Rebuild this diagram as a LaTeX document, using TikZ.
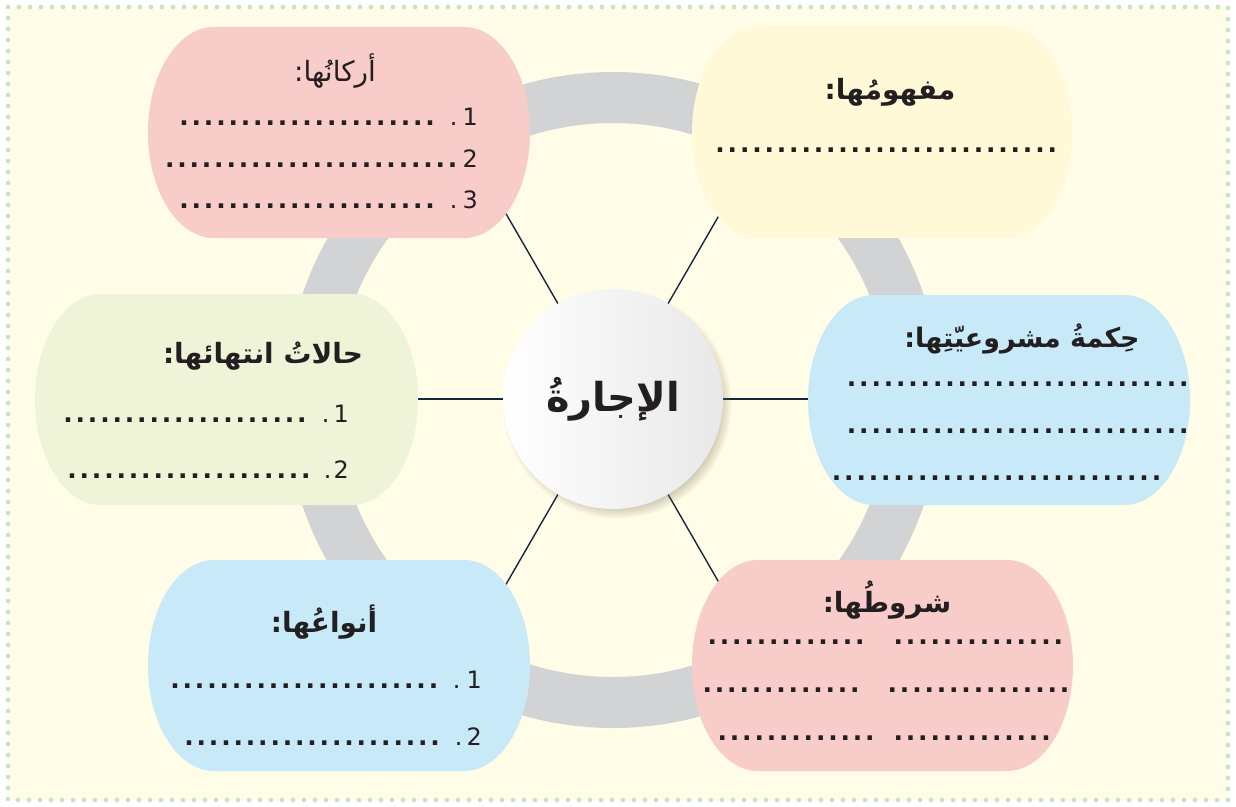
\documentclass[tikz,border=0pt]{standalone}
\usepackage{fontspec}
\setmainfont{DejaVu Sans}
\newfontfamily\arabicfont[Script=Arabic]{DejaVu Sans}
\TeXXeTstate=1
\usetikzlibrary{calc,shadows}
\definecolor{bgc}{RGB}{255,252,232}
\definecolor{dotgreen}{RGB}{204,228,196}
\definecolor{ringc}{RGB}{209,211,212}
\definecolor{pinkbox}{RGB}{248,204,201}
\definecolor{yellowbox}{RGB}{255,249,215}
\definecolor{greenbox}{RGB}{239,244,217}
\definecolor{bluebox}{RGB}{199,233,248}
\definecolor{spokec}{RGB}{20,40,60}
\definecolor{txt}{RGB}{35,31,32}
\definecolor{shadowc}{RGB}{120,112,80}
\pgfdeclarelayer{back}
\pgfdeclarelayer{mid}
\pgfsetlayers{back,mid,main}
\newcommand\dotsrow[1]{\hbox to #1{\leaders\hbox to 12.3bp{\hss{\fontsize{25}{25}\selectfont\bfseries .}\hss}\hfill}}
\newcommand\bubble[6]{%
  \node[inner sep=0pt, outer sep=0pt, minimum width={(#5-#3)*1bp}, minimum height={(#6-#4)*1bp}] (#1) at ({(#3+#5)/2},{-(#4+#6)/2}) {};
  \fill[#2] ($(#1.north west)+(66,0)$) -- ($(#1.north east)+(-66,0)$)
    arc[start angle=90,end angle=-90,x radius=66,y radius={(#6-#4)/2}]
    -- ($(#1.south west)+(66,0)$)
    arc[start angle=270,end angle=90,x radius=66,y radius={(#6-#4)/2}] -- cycle;
}
\tikzset{
  title/.style={anchor=base, inner sep=0pt, text=txt, font=\arabicfont\fontsize{28}{32}\selectfont\bfseries},
  rowtext/.style={inner sep=0pt, text=txt, font=\fontsize{24}{28}\selectfont},
  spoke/.style={draw=spokec, line width=1.4bp},
}
\begin{document}
\begin{tikzpicture}[x=1bp,y=1bp]
\useasboundingbox (0,0) rectangle (1236,-807);
\begin{pgfonlayer}{back}
  \fill[white] (0,0) rectangle (1236,-807);
  \fill[bgc] (8,-7) rectangle (1228,-800);
  \draw[dotgreen, line width=4.8bp, line cap=round, dash pattern=on 0pt off 11bp] (8,-7) rectangle (1228,-800);
  \draw[ringc, line width=51bp] (613,-400) circle[radius=302.5];
\end{pgfonlayer}

% bubbles
\bubble{tl}{pinkbox}{148}{27}{530}{238}
\bubble{tr}{yellowbox}{692}{27}{1072}{238}
\bubble{ml}{greenbox}{35}{294}{418}{505}
\bubble{mr}{bluebox}{808}{295}{1190}{505}
\bubble{bl}{bluebox}{148}{560}{530}{771}
\bubble{br}{pinkbox}{692}{560}{1073}{771}

% centre circle
\node[circle, minimum size=220bp, inner sep=0pt, left color=white, right color=black!9,
  circular drop shadow={shadow xshift=4bp, shadow yshift=-5bp, shadow scale=1.04, fill=shadowc, opacity=.5},
  text=txt, font=\arabicfont\fontsize{40}{44}\selectfont\bfseries] (c) at (613,-399) {\beginR الإجارةُ\endR};

% spokes
\begin{pgfonlayer}{mid}
  \foreach \a/\n in {0/e0,60/e60,120/e120,180/e180,240/e240,300/e300}{
    \path (c.center) ++(\a:250) coordinate (\n);
    \draw[spoke] (c.\a) -- (\n);
  }
\end{pgfonlayer}

% top left
\node[title, font=\arabicfont\fontsize{28}{32}\selectfont] (tlt) at (335,-82) {\beginR أركانُها:\endR};
\node[rowtext, anchor=base east] (tl1) at (478,-125) {\dotsrow{268bp}\hspace{4bp}.\hspace{5bp}1};
\node[rowtext, anchor=base east] (tl2) at (478,-167) {\dotsrow{298bp}\hspace{1bp}2};
\node[rowtext, anchor=base east] (tl3) at (478,-208) {\dotsrow{268bp}\hspace{4bp}.\hspace{5bp}3};

% top right
\node[title] (trt) at (890,-100) {\beginR مفهومُها:\endR};
\node[rowtext, anchor=base] (tr1) at (890,-152) {\dotsrow{352bp}};

% middle left
\node[title] (mlt) at (263,-363) {\beginR حالاتُ انتهائها:\endR};
\node[rowtext, anchor=base east] (ml1) at (349,-422) {\dotsrow{256bp}\hspace{4bp}.\hspace{4bp}1};
\node[rowtext, anchor=base east] (ml2) at (349,-478) {\dotsrow{256bp}\hspace{2bp}.\hspace{2bp}2};

% middle right
\node[title, font=\arabicfont\fontsize{27}{30}\selectfont\bfseries] (mrt) at (1022,-347) {\beginR حِكمةُ مشروعيّتِها:\endR};
\node[rowtext, anchor=base] (mr1) at (1018,-386) {\dotsrow{345bp}};
\node[rowtext, anchor=base] (mr2) at (1018,-433) {\dotsrow{345bp}};
\node[rowtext, anchor=base] (mr3) at (1002,-480) {\dotsrow{343bp}};

% bottom left
\node[title] (blt) at (324,-632) {\beginR أنواعُها:\endR};
\node[rowtext, anchor=base east] (bl1) at (482,-688) {\dotsrow{276bp}\hspace{8bp}.\hspace{6bp}1};
\node[rowtext, anchor=base east] (bl2) at (482,-745) {\dotsrow{264bp}\hspace{8bp}.\hspace{4bp}2};

% bottom right
\node[title] (brt) at (887,-612) {\beginR شروطُها:\endR};
\node[rowtext, anchor=base west] (br1) at (706,-644) {\dotsrow{172bp}\hspace{14bp}\dotsrow{174bp}};
\node[rowtext, anchor=base west] (br2) at (701,-692) {\dotsrow{172bp}\hspace{13bp}\dotsrow{185bp}};
\node[rowtext, anchor=base west] (br3) at (716,-740) {\dotsrow{162bp}\hspace{14bp}\dotsrow{162bp}};
\end{tikzpicture}
\end{document}
